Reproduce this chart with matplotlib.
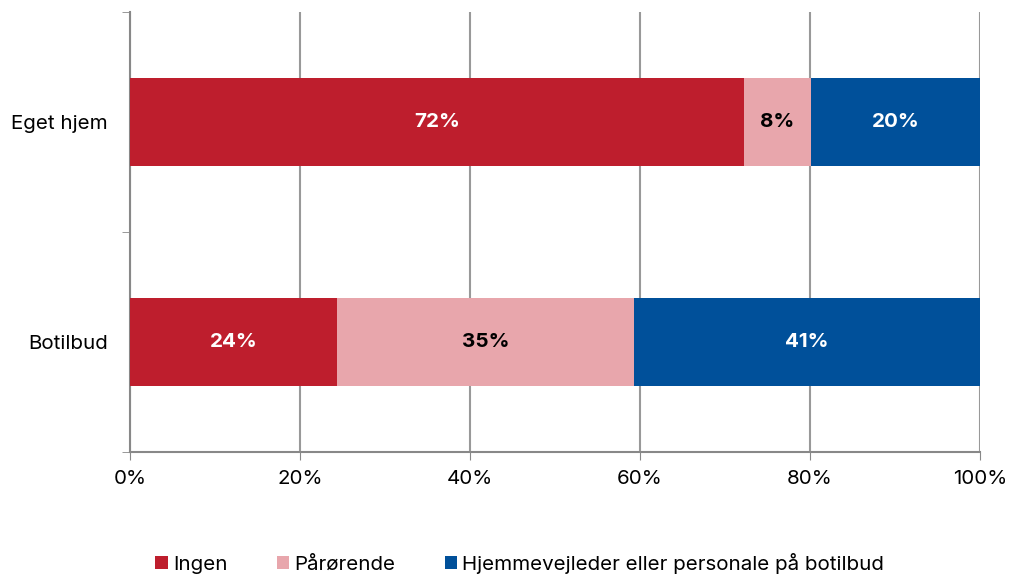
import matplotlib.pyplot as plt
import numpy as np

plt.rcParams['font.family'] = ['Inter', 'DejaVu Sans']

# data
categories = ["Botilbud", "Eget hjem"]
ingen = [24.4, 72.2]
paarorende = [34.9, 7.9]
hjemmevejleder = [40.7, 19.9]
series_names = ["Ingen", "Pårørende", "Hjemmevejleder eller personale på botilbud"]
colors = ["#BE1E2D", "#E8A6AC", "#00509A"]
text_colors = ["white", "black", "white"]

fs = 14.8

fig = plt.figure(figsize=(10.09, 5.76), dpi=100)
ax = fig.add_axes([0.1288, 0.2153, 0.8425, 0.7639])

y = np.arange(len(categories))
left = np.zeros(len(categories))
for vals, name, col, tc in zip([ingen, paarorende, hjemmevejleder], series_names, colors, text_colors):
    bars = ax.barh(y, vals, 0.4, left=left, color=col, label=name, zorder=3)
    labels = [f"{round(v):.0f}%" for v in vals]
    ax.bar_label(bars, labels=labels, label_type="center", color=tc,
                 fontsize=fs, fontweight="bold")
    left = left + np.array(vals)

ax.set_xlim(0, 100)
ax.set_ylim(-0.5, 1.5)
ax.set_xticks(np.arange(0, 101, 20))
ax.set_xticklabels([f"{v}%" for v in range(0, 101, 20)])
ax.set_yticks(y)
ax.set_yticklabels(categories)
ax.set_yticks([-0.5, 0.5, 1.5], minor=True)
ax.tick_params(axis="y", which="major", length=0, labelsize=fs, pad=16)
ax.tick_params(axis="y", which="minor", length=6, color="#888888")
ax.tick_params(axis="x", length=6, color="#888888", labelsize=fs, pad=7)

ax.grid(axis="x", color="#999999", linewidth=1.5, zorder=0)
for s in ["top", "right"]:
    ax.spines[s].set_visible(False)
for s in ["left", "bottom"]:
    ax.spines[s].set_color("#888888")
    ax.spines[s].set_linewidth(1.5)

fig.legend(loc="lower center", bbox_to_anchor=(0.515, -0.028), ncol=3, frameon=False,
           fontsize=fs, handlelength=0.6, handleheight=0.6, handletextpad=0.25,
           columnspacing=2.4)

plt.savefig("out.png")
